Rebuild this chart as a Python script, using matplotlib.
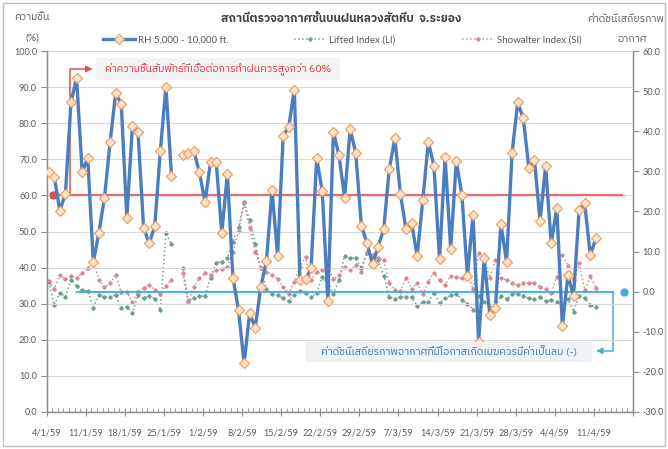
import matplotlib
matplotlib.use('Agg')
import matplotlib.pyplot as plt
import numpy as np
from matplotlib import font_manager
from matplotlib.ft2font import FT2Font
from matplotlib.patches import Rectangle

nan = np.nan
# ---------------- data ----------------
tick_labels = ['4/1/59', '11/1/59', '18/1/59', '25/1/59', '1/2/59', '8/2/59', '15/2/59',
               '22/2/59', '29/2/59', '7/3/59', '14/3/59', '21/3/59', '28/3/59', '4/4/59', '11/4/59']

rh = [66.6, 65.2, 55.8, 60.4, 85.8, 92.7, 66.6, 70.3, 41.4, 49.7,
      59.4, 74.7, 88.3, 85.5, 53.8, 79.3, 77.6, 51.1, 46.7, 51.5,
      72.3, 90.2, 65.4, nan, 71.1, 71.9, 72.3, 66.4, 58.1, 69.4,
      69.4, 49.5, 66.0, 37.2, 28.2, 13.4, 27.3, 23.3, 34.7, 41.8,
      61.5, 43.3, 76.5, 79.1, 89.3, 36.5, 36.7, 39.8, 70.3, 61.2,
      30.8, 77.7, 71.1, 59.4, 78.4, 71.7, 51.6, 46.9, 40.9, 45.8,
      50.6, 67.3, 75.9, 60.4, 50.6, 52.3, 43.2, 58.7, 74.9, 68.2,
      42.3, 70.6, 45.1, 69.6, 60.2, 37.7, 54.6, 19.4, 42.6, 26.8,
      28.7, 52.1, 41.6, 71.9, 85.8, 81.4, 67.7, 69.8, 53.0, 68.2,
      46.7, 56.6, 23.8, 37.9, 32.1, 56.0, 57.8, 43.4, 48.1]

li = [2.4, -3.4, -0.3, -1.3, 3.0, 1.3, 0.3, 0.1, -4.0, -0.9,
      -1.3, -1.4, -0.9, -4.0, -3.9, -5.3, -0.9, -1.7, -1.0, -1.8,
      -4.6, 14.6, 11.8, nan, 6.0, -2.4, -1.7, -1.1, -1.1, 3.5,
      7.1, 7.5, 8.4, 12.5, 16.0, 22.3, 17.8, 12.0, 5.8, 0.6,
      -0.5, -0.9, -1.7, -2.3, -0.9, 0.2, -0.4, -1.4, -0.4, 3.7,
      1.5, -0.5, 3.0, 8.9, 8.3, 8.3, 5.8, 9.7, 9.0, 8.0,
      4.0, -1.3, -1.9, -1.3, -1.4, -1.4, -3.6, -2.5, -2.5, -0.4,
      -2.9, -1.7, -0.9, -0.6, -2.1, -3.0, -4.5, -1.0, -2.5, -4.0,
      -3.5, -1.1, -1.9, -0.7, -0.6, -1.0, -1.7, -1.9, -1.3, -2.3,
      -2.1, -2.5, -3.8, -1.9, -5.0, -1.0, -1.7, -3.4, -3.9]

si = [2.6, 0.6, 4.1, 3.1, 4.0, 3.3, 4.6, 5.8, 7.8, 2.9,
      1.1, 2.1, 4.1, -0.2, -0.2, -2.5, 0.0, 0.8, 1.6, 0.4,
      -0.6, 1.5, 3.0, nan, 4.7, -2.6, 1.2, 3.3, 4.7, 4.2,
      5.5, 5.6, 6.2, 10.0, 15.0, 22.0, 15.8, 10.0, 5.8, 5.0,
      4.1, 3.1, 1.1, -0.5, 2.5, 6.2, 8.7, 2.8, 5.0, 5.5,
      6.4, 3.1, 4.1, 6.1, 5.4, 6.6, 5.0, 10.0, 9.1, 8.3,
      7.9, 2.1, 0.4, 0.2, 3.5, 0.6, 2.1, -0.7, 2.5, 4.7,
      2.9, 1.6, 3.9, 3.7, 3.3, 4.6, 0.6, 9.6, 8.0, 3.4,
      8.0, 3.5, 2.9, 2.1, 1.6, 2.1, 2.2, 2.1, 1.2, 0.6,
      -0.4, 3.7, 9.2, 6.5, 2.8, 7.1, 0.4, 3.8, 1.0]

title = 'สถานีตรวจอากาศชั้นบนฝนหลวงสัตหีบ  จ.ระยอง'
left_title = ['ความชื้น', '(%)']
right_title = ['ค่าดัชนีเสถียรภาพ', 'อากาศ']
note_rh = 'ค่าความชื้นสัมพัทธ์ที่เอื้อต่อการทำฝนควรสูงกว่า 60%'
note_si = 'ค่าดัชนีเสถียรภาพอากาศที่มีโอกาสเกิดเมฆควรมีค่าเป็นลบ (-)'
legend_labels = ['RH 5,000 - 10,000 ft.', 'Lifted Index (LI)', 'Showalter Index (SI)']

# ---------------- fonts ----------------
def find_thai_fonts():
    names = []
    for f in font_manager.fontManager.ttflist:
        try:
            cm = FT2Font(f.fname).get_charmap()
        except Exception:
            continue
        if 0x0E2A in cm and 0x0E49 in cm and 0x0E35 in cm:
            if f.name not in names:
                names.append(f.name)
    names.sort(key=lambda n: (0 if 'Sans' in n else 1, n))
    return names

thai = find_thai_fonts()
num_font = ['Lato', 'DejaVu Sans']
thai_font = thai[:1] + ['DejaVu Sans']
plt.rcParams['font.family'] = thai_font

# ---------------- figure ----------------
W, H = 668, 449
fig = plt.figure(figsize=(W / 100, H / 100), dpi=100)
ax = fig.add_axes([46.7 / W, 1 - 411.7 / H, (633 - 46.7) / W, (411.7 - 51.3) / H])
ax2 = ax.twinx()
ax.set_zorder(ax2.get_zorder() + 1)
ax.patch.set_visible(False)

days = np.arange(len(rh))
xs = days + 0.35

blue = '#4A7EBF'
ax.plot(xs, rh, color=blue, lw=2.4, marker='D', markersize=4.8,
        markerfacecolor='#FCE4D0', markeredgecolor='#F0A060', markeredgewidth=0.9,
        zorder=5, label=legend_labels[0])
l_li, = ax2.plot(xs, li, color='#6E9E8E', lw=1.1, ls=':', marker='D', markersize=1.8,
                 label=legend_labels[1])
l_si, = ax2.plot(xs, si, color='#D58A95', lw=1.1, ls=':', marker='D', markersize=1.8,
                 label=legend_labels[2])

ax.set_xlim(0, 105)
ax.set_ylim(0, 100)
ax2.set_ylim(-30, 60)

grey = '#595959'
spine_c = '#8C8C8C'
ax.set_yticks(np.arange(0, 101, 10))
ax.set_yticklabels([f'{v:.1f}' for v in np.arange(0, 101, 10)], fontsize=6.6, color=grey,
                   family=num_font)
ax2.set_yticks(np.arange(-30, 61, 10))
ax2.set_yticklabels([f'{v:.1f}' for v in np.arange(-30, 61, 10)], fontsize=6.6, color=grey,
                    family=num_font)
ax.set_xticks(np.arange(0, 106, 7))
ax.set_xticklabels(tick_labels + [''], fontsize=6.6, color=grey, family=num_font)
ax.set_xticks(np.arange(0, 106, 1), minor=True)
ax.tick_params(axis='x', which='major', direction='inout', length=6, color=spine_c, pad=9)
ax.tick_params(axis='x', which='minor', direction='in', length=3, color=spine_c)
ax.tick_params(axis='y', direction='out', length=4, color=spine_c, pad=3)
ax2.tick_params(axis='y', direction='out', length=4, color=spine_c, pad=3)

ax.grid(axis='y', color='#D9D9D9', lw=0.8)
ax.set_axisbelow(True)
for a in (ax, ax2):
    a.spines['top'].set_visible(False)
    for s in ('left', 'right', 'bottom'):
        a.spines[s].set_color(spine_c)
        a.spines[s].set_linewidth(0.9)

# ---------------- annotations ----------------
red = '#D9534F'
ax.plot([1.1, 103.2], [60, 60], color=red, lw=1.3, alpha=0.85, zorder=3, solid_capstyle='butt')
ax.plot([1.1, 103.2], [60, 60], color=red, lw=3.5, alpha=0.12, zorder=3)
ax.plot([1.1], [60], 'o', color=red, markersize=5, zorder=4)
ax.plot([4.25, 4.25, 7.0], [60, 95.1, 95.1], color=red, lw=1.1, zorder=4)
ax.annotate('', xy=(8.7, 95.1), xytext=(6.8, 95.1),
            arrowprops=dict(arrowstyle='-|>', color=red, lw=1.1, mutation_scale=9), zorder=4)

cyan = '#4BACC6'
ax2.plot([5.4, 101.5], [0, 0], color=cyan, lw=1.3, zorder=3)
ax2.plot([5.4, 101.5], [0, 0], color=cyan, lw=3.5, alpha=0.12, zorder=3)
ax2.plot([103.4], [0], 'o', color=cyan, markersize=5, zorder=4)
ax2.plot([101.5, 101.5, 99.5], [0, -14.8, -14.8], color=cyan, lw=1.1, zorder=4)
ax2.annotate('', xy=(97.9, -14.8), xytext=(99.8, -14.8),
             arrowprops=dict(arrowstyle='-|>', color=cyan, lw=1.1, mutation_scale=9), zorder=4)

ax.add_patch(Rectangle((8.8, 92.0), 52.5 - 8.8, 98.1 - 92.0, facecolor='#F2F2F2',
                       edgecolor='none', alpha=0.92, zorder=6))
ax.text(30.7, 95.0, note_rh, color='#D9343A', fontsize=7.5, style='italic',
        ha='center', va='center', zorder=7)
ax.add_patch(Rectangle((46.5, 13.8), 97.7 - 46.5, 19.3 - 13.8, facecolor='#EEF1F4',
                       edgecolor='none', alpha=0.92, zorder=6))
ax.text(72.1, 16.6, note_si, color='#2E75B6', fontsize=7.5, style='italic',
        ha='center', va='center', zorder=7)

# ---------------- titles & legend ----------------
fig.text(341 / W, 1 - 18 / H, title, ha='center', va='center', fontsize=8.5,
         fontweight='bold', color='#404040')
fig.text(32 / W, 1 - 18 / H, left_title[0], ha='center', va='center', fontsize=7.5, color=grey)
fig.text(32 / W, 1 - 38 / H, left_title[1], ha='center', va='center', fontsize=7.5, color=grey,
         family=num_font)
fig.text(626 / W, 1 - 20 / H, right_title[0], ha='center', va='center', fontsize=7.5, color=grey)
fig.text(632 / W, 1 - 40 / H, right_title[1], ha='center', va='center', fontsize=7.5, color=grey)

handles = [ax.lines[0], l_li, l_si]
leg = fig.legend(handles, legend_labels, loc='center', bbox_to_anchor=(342 / W, 1 - 40 / H),
                 ncol=3, frameon=False, handlelength=3.3, handletextpad=0.3,
                 columnspacing=6.8, prop={'family': num_font, 'size': 7})
for t in leg.get_texts():
    t.set_color(grey)

fig.patches.append(Rectangle((0.004, 0.006), 0.992, 0.988, transform=fig.transFigure,
                             fill=False, edgecolor='#BFBFBF', lw=1))

fig.savefig('out.png', dpi=100)
